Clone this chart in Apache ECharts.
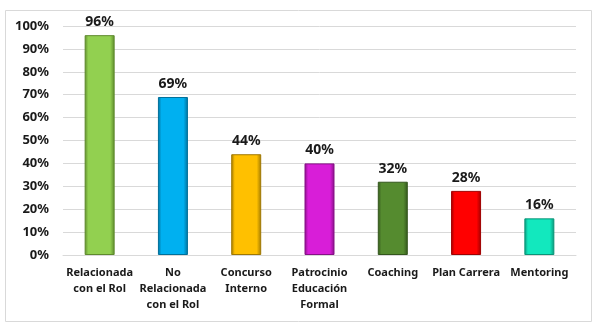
<!DOCTYPE html>
<html>
<head>
<meta charset="utf-8">
<script src="https://cdn.jsdelivr.net/npm/echarts@6/dist/echarts.min.js"></script>
<style>
  html, body { margin: 0; padding: 0; background: #fff; }
  #chart { width: 600px; height: 335px; }
</style>
</head>
<body>
<div id="chart"></div>
<script>
// Development actions and share of respondents
const categories = [
  'Relacionada\ncon el Rol',
  'No\nRelacionada\ncon el Rol',
  'Concurso\nInterno',
  'Patrocinio\nEducación\nFormal',
  'Coaching',
  'Plan Carrera',
  'Mentoring'
];
const values = [96, 69, 44, 40, 32, 28, 16];
const barColors = ['#92D050', '#00B0F0', '#FFC000', '#D81ED8', '#558B2F', '#FF0000', '#12E8BE'];
const edgeColors = ['#5E8A2C', '#00709A', '#A07800', '#861086', '#33561C', '#A00000', '#0A9478'];

function bevel(c, e) {
  return new echarts.graphic.LinearGradient(0, 0, 1, 0, [
    { offset: 0, color: e },
    { offset: 0.12, color: c },
    { offset: 0.85, color: c },
    { offset: 1, color: e }
  ]);
}

const chart = echarts.init(document.getElementById('chart'), null, { renderer: 'canvas' });
chart.setOption({
  animation: false,
  backgroundColor: '#fff',
  graphic: [{
    type: 'rect',
    shape: { x: 5.5, y: 10.5, width: 586, height: 311 },
    style: { fill: 'none', stroke: '#D9D9D9', lineWidth: 1 },
    z: -1
  }],
  grid: { left: 63, right: 24, top: 26, bottom: 80 },
  xAxis: {
    type: 'category',
    data: categories,
    axisLine: { show: true, lineStyle: { color: '#D9D9D9' } },
    axisTick: { show: false },
    axisLabel: {
      interval: 0,
      color: '#1a1a1a',
      fontFamily: 'Noto Sans',
      fontWeight: 'bold',
      fontSize: 11,
      lineHeight: 16,
      margin: 10
    }
  },
  yAxis: {
    type: 'value',
    min: 0,
    max: 100,
    interval: 10,
    axisLine: { show: false },
    axisTick: { show: false },
    splitLine: { lineStyle: { color: '#D9D9D9', width: 1 } },
    axisLabel: {
      formatter: '{value}%',
      color: '#1a1a1a',
      fontFamily: 'Noto Sans',
      fontWeight: 'bold',
      fontSize: 13,
      margin: 14
    }
  },
  series: [{
    type: 'bar',
    barWidth: 30,
    data: values.map((v, i) => ({
      value: v,
      itemStyle: {
        color: bevel(barColors[i], edgeColors[i]),
        borderColor: edgeColors[i],
        borderWidth: 1
      }
    })),
    label: {
      show: true,
      position: 'top',
      distance: 6,
      formatter: '{c}%',
      color: '#1a1a1a',
      fontFamily: 'Noto Sans',
      fontWeight: 'bold',
      fontSize: 14
    }
  }]
});
</script>
</body>
</html>
